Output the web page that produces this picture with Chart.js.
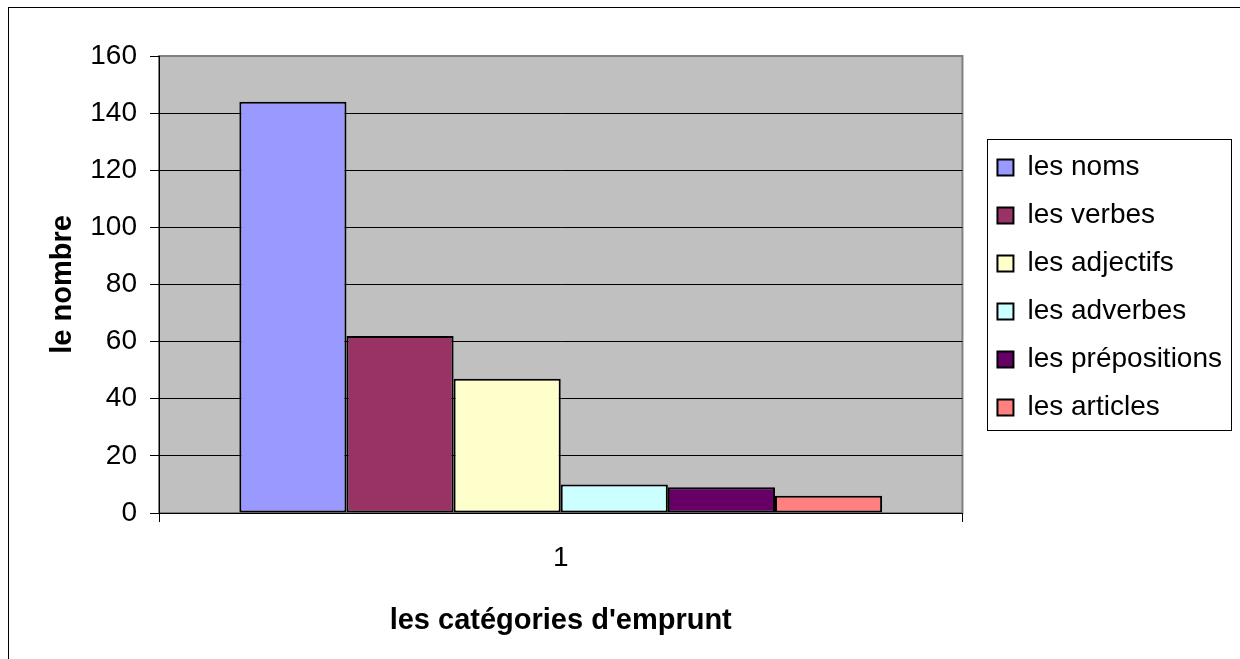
<!DOCTYPE html>
<html>
<head>
<meta charset="utf-8">
<script src="https://cdn.jsdelivr.net/npm/chart.js@4/dist/chart.umd.min.js"></script>
<style>
body { margin: 0; background: #fff; overflow: hidden; }
#frame { position: absolute; left: 8px; top: 7px; width: 1250px; height: 670px; border-left: 1px solid #000; border-top: 1px solid #000; }
#c { position: absolute; left: 0; top: 0; }
</style>
</head>
<body>
<div id="frame"></div>
<canvas id="c" width="1240" height="659"></canvas>
<script>
// data
var categories = ["1"];
var seriesNames = ["les noms", "les verbes", "les adjectifs", "les adverbes", "les prépositions", "les articles"];
var seriesValues = [144, 62, 47, 10, 9, 6];
var seriesColors = ["#9999FF", "#993366", "#FFFFCC", "#CCFFFF", "#660066", "#FF8080"];
var yMin = 0, yMax = 160, yStep = 20;

Chart.defaults.font.family = "'Liberation Sans', Arial, sans-serif";
Chart.defaults.color = "#000";

var datasets = [];
for (var i = 0; i < seriesNames.length; i++) {
  datasets.push({
    label: seriesNames[i],
    data: [seriesValues[i]],
    backgroundColor: seriesColors[i],
    borderColor: "#000",
    borderWidth: 2,
    borderSkipped: false
  });
}

// grey plot area like excel
var plotBack = {
  id: "plotBack",
  beforeDraw: function(chart) {
    var a = chart.chartArea, ctx = chart.ctx;
    ctx.save();
    ctx.fillStyle = "#C0C0C0";
    ctx.fillRect(a.left, a.top, a.right - a.left, a.bottom - a.top);
    ctx.strokeStyle = "#808080";
    ctx.lineWidth = 2;
    ctx.strokeRect(a.left, a.top, a.right - a.left, a.bottom - a.top);
    ctx.restore();
  }
};

// move legend next to the plot and put a frame round it
var legendBox = {
  id: "legendBox",
  afterLayout: function(chart) {
    var l = chart.legend, w = l.right - l.left, h = l.bottom - l.top;
    l.left = chart.chartArea.right + 15;
    l.right = l.left + w;
    l.top += 3;
    l.bottom = l.top + h;
  },
  afterDraw: function(chart) {
    var hb = chart.legend.legendHitBoxes;
    if (!hb || !hb.length) return;
    var w = 0;
    hb.forEach(function(h) { w = Math.max(w, h.width); });
    var first = hb[0], last = hb[hb.length - 1];
    var ctx = chart.ctx;
    ctx.save();
    ctx.strokeStyle = "#000";
    ctx.lineWidth = 1;
    var x1 = Math.round(first.left - 10) + 0.5;
    var x2 = Math.round(first.left + w + 9) + 0.5;
    var y1 = Math.round(first.top - 15) + 0.5;
    var y2 = Math.round(last.top + last.height + 8) + 0.5;
    ctx.strokeRect(x1, y1, x2 - x1, y2 - y1);
    ctx.restore();
  }
};

new Chart(document.getElementById("c"), {
  type: "bar",
  data: { labels: categories, datasets: datasets },
  options: {
    responsive: false,
    animation: false,
    layout: { padding: { top: 56, right: 23, bottom: 0, left: 0 } },
    datasets: { bar: { categoryPercentage: 0.8, barPercentage: 1 } },
    plugins: {
      tooltip: { enabled: false },
      legend: {
        position: "right",
        fullSize: false,
        labels: {
          boxWidth: 16,
          boxHeight: 16,
          padding: 20,
          color: "#000",
          font: { size: 28 }
        }
      }
    },
    scales: {
      x: {
        offset: true,
        afterFit: function(s) { s.height = 146; },
        grid: { offset: true, drawOnChartArea: false, color: "#000", tickLength: 9 },
        border: { color: "#000", width: 1 },
        ticks: { padding: 19, font: { size: 28 }, color: "#000" },
        title: { display: true, text: "les catégories d'emprunt", font: { size: 29, weight: "bold" }, color: "#000", padding: { top: 0, bottom: 21 } }
      },
      y: {
        min: yMin,
        max: yMax,
        afterFit: function(s) { s.width = 159; },
        grid: {
          color: function(c) { return c.tick && c.tick.value === yMax ? "#808080" : "#000"; },
          tickColor: "#000",
          tickLength: 9
        },
        border: { color: "#000", width: 1 },
        ticks: { stepSize: yStep, padding: 13, font: { size: 28 }, color: "#000" },
        title: { display: true, text: "le nombre", font: { size: 29, weight: "bold" }, color: "#000", padding: { top: 46, bottom: 0 } }
      }
    }
  },
  plugins: [plotBack, legendBox]
});
</script>
</body>
</html>
